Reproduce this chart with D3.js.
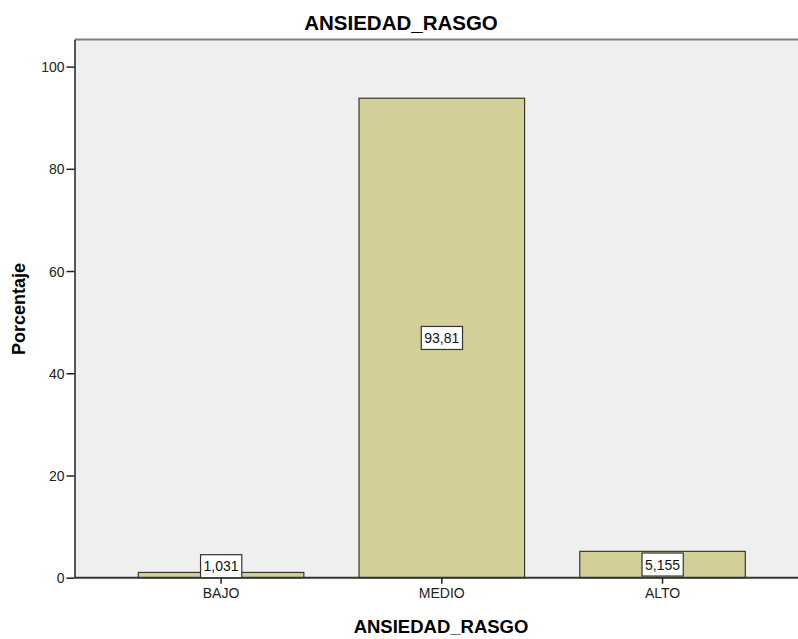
<!DOCTYPE html>
<html>
<head>
<meta charset="utf-8">
<script src="https://cdn.jsdelivr.net/npm/d3@7"></script>
<style>
  body { margin: 0; background: #fff; }
  svg { display: block; font-family: Arial, "Liberation Sans", sans-serif; }
  .axis text { font-size: 14px; fill: #222; }
</style>
</head>
<body>
<script>
(function all (){
  //chart data
  var categories = ["BAJO", "MEDIO", "ALTO"];
  var percents = [1.031, 93.81, 5.155];
  var valueLabels = ["1,031", "93,81", "5,155"];
  var yTicks = [0, 20, 40, 60, 80, 100];

  var width = 798,
      height = 639;

  //plot frame
  var plotLeft = 74.5,
      plotRight = 798,
      plotTop = 39.5,
      plotBottom = 577.7;

  var svg = d3.select("body")
    .append("svg")
    .attr("width", width)
    .attr("height", height);

  //scales
  var x = d3.scaleBand()
    .domain(categories)
    .range([110.7, 772.9])
    .paddingInner(0.25)
    .paddingOuter(0.125);

  var y = d3.scaleLinear()
    .domain([0, 105.3])
    .range([plotBottom, plotTop]);

  //plot background
  svg.append("rect")
    .attr("x", plotLeft)
    .attr("y", plotTop)
    .attr("width", plotRight - plotLeft)
    .attr("height", plotBottom - plotTop)
    .style("fill", "#efefef");

  //top border
  svg.append("line")
    .attr("x1", plotLeft).attr("x2", plotRight)
    .attr("y1", plotTop).attr("y2", plotTop)
    .style("stroke", "#808080")
    .style("stroke-width", 2);

  //bars
  svg.selectAll(".bar")
    .data(percents)
    .enter()
    .append("rect")
    .attr("class", "bar")
    .attr("x", function(d, i){ return x(categories[i]); })
    .attr("width", x.bandwidth())
    .attr("y", function(d){ return y(d); })
    .attr("height", function(d){ return y(0) - y(d); })
    .style("fill", "#d3cf98")
    .style("stroke", "#3a3a2a")
    .style("stroke-width", 1.2);

  //y axis
  var yAxis = d3.axisLeft(y)
    .tickValues(yTicks)
    .tickSize(8)
    .tickPadding(2)
    .tickSizeOuter(0);

  var gy = svg.append("g")
    .attr("class", "axis")
    .attr("transform", "translate(" + plotLeft + ",0)")
    .call(yAxis);
  gy.select(".domain").style("stroke", "#222").style("stroke-width", 1.5);
  gy.selectAll(".tick line").style("stroke", "#222").style("stroke-width", 1.5);
  gy.selectAll(".tick text").attr("dy", "0.36em");

  //x axis
  var xAxis = d3.axisBottom(x)
    .tickSize(6)
    .tickPadding(4)
    .tickSizeOuter(0);

  var gx = svg.append("g")
    .attr("class", "axis")
    .attr("transform", "translate(0," + plotBottom + ")")
    .call(xAxis);
  gx.select(".domain")
    .attr("d", "M" + plotLeft + ",0H" + plotRight)
    .style("stroke", "#333")
    .style("stroke-width", 2);
  gx.selectAll(".tick line").style("stroke", "#222").style("stroke-width", 1.5);

  //value labels in boxes
  var labels = svg.selectAll(".vlabel")
    .data(percents)
    .enter()
    .append("g")
    .attr("class", "vlabel")
    .attr("transform", function(d, i){
      var cx = x(categories[i]) + x.bandwidth() / 2;
      var cy = Math.min((y(d) + y(0)) / 2, y(0) - 11.5);
      return "translate(" + cx + "," + cy + ")";
    });

  labels.append("text")
    .attr("text-anchor", "middle")
    .attr("dy", "0.36em")
    .style("font-size", "14px")
    .style("fill", "#111")
    .text(function(d, i){ return valueLabels[i]; })
    .each(function(){
      var bb = this.getBBox();
      d3.select(this.parentNode).insert("rect", "text")
        .attr("x", bb.x - 3)
        .attr("y", -11.5)
        .attr("width", bb.width + 6)
        .attr("height", 23)
        .style("fill", "#fff")
        .style("stroke", "#333")
        .style("stroke-width", 1.2);
    });

  //titles
  svg.append("text")
    .attr("x", 401)
    .attr("y", 30)
    .attr("text-anchor", "middle")
    .style("font-size", "20.5px")
    .style("font-weight", "bold")
    .text("ANSIEDAD_RASGO");

  svg.append("text")
    .attr("x", 441)
    .attr("y", 633)
    .attr("text-anchor", "middle")
    .style("font-size", "18.5px")
    .style("font-weight", "bold")
    .text("ANSIEDAD_RASGO");

  svg.append("text")
    .attr("transform", "translate(25,309) rotate(-90)")
    .attr("text-anchor", "middle")
    .style("font-size", "18px")
    .style("font-weight", "bold")
    .text("Porcentaje");
})();
</script>
</body>
</html>
